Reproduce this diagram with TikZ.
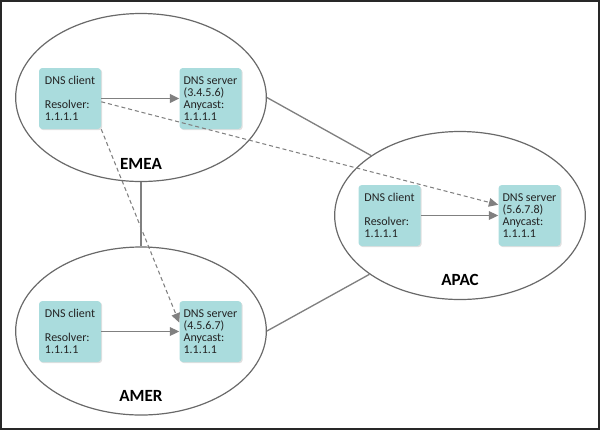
\documentclass[tikz,border=0pt]{standalone}
\usepackage{fontspec}
\setmainfont{Carlito}
\usetikzlibrary{arrows.meta,shapes.geometric,shadows}
\definecolor{Ccaixa}{RGB}{170,220,221}
\definecolor{Clinha}{RGB}{128,128,128}
\definecolor{Celipse}{RGB}{105,105,105}
\definecolor{Ctexto}{RGB}{35,35,35}
\definecolor{Cmoldura}{RGB}{40,40,40}

\begin{document}
\begin{tikzpicture}[x=0.75pt, y=-0.75pt,
    regiao/.style={ellipse, draw=Celipse, line width=0.9pt,
      minimum width=188pt, minimum height=126pt, inner sep=0pt},
    caixa/.style={rectangle, rounded corners=2.5pt, fill=Ccaixa,
      minimum width=46.5pt, minimum height=45.75pt, inner sep=0pt,
      align=left, text=Ctexto, font=\fontsize{9}{9}\selectfont,
      drop shadow={shadow xshift=0.9pt, shadow yshift=-0.9pt, opacity=0.25}},
    rotulo/.style={font=\fontsize{12.8}{14}\selectfont\bfseries, text=black},
    liga/.style={draw=Clinha, line width=1pt},
    fluxo/.style={draw=Clinha, line width=0.9pt, -{Triangle[length=7pt,width=6.5pt]}},
    atalho/.style={fluxo, dash pattern=on 3pt off 2.2pt, line width=0.8pt}]
      \useasboundingbox (0,0) rectangle (600,430);
      % Moldura
      \draw[line width=1.5pt, Cmoldura] (1,1) rectangle (598.5,428.5);
      % Regioes
      \node[regiao] (emea) at (141,97.5) {};
      \node[regiao] (amer) at (141,331) {};
      \node[regiao] (apac) at (460,215.5) {};
      \node[rotulo] (lblemea) at (141,164) {EMEA};
      \node[rotulo] (lblamer) at (141,396) {AMER};
      \node[rotulo] (lblapac) at (460,280) {APAC};
      % Ligacoes entre regioes
      \draw[liga] (emea.south) -- (amer.north);
      \draw[liga] (emea.east) -- (apac.146);
      \draw[liga] (amer.east) -- (apac.213);
      % Clientes e servidores
      \node[caixa] (emeacli) at (70,98.5) {DNS client\\[9pt]Resolver:\\1.1.1.1};
      \node[caixa] (emeasrv) at (210.5,98.5) {DNS server\\(3.4.5.6)\\Anycast:\\1.1.1.1};
      \node[caixa] (amercli) at (70,331.5) {DNS client\\[9pt]Resolver:\\1.1.1.1};
      \node[caixa] (amersrv) at (210.5,331.5) {DNS server\\(4.5.6.7)\\Anycast:\\1.1.1.1};
      \node[caixa] (apaccli) at (389.5,215.5) {DNS client\\[9pt]Resolver:\\1.1.1.1};
      \node[caixa] (apacsrv) at (529.5,215.5) {DNS server\\(5.6.7.8)\\Anycast:\\1.1.1.1};
      % Consultas locais
      \draw[fluxo, line width=1.3pt] (emeacli.east) -- (emeasrv.west);
      \draw[fluxo] (amercli.east) -- (amersrv.west);
      \draw[fluxo] (apaccli.east) -- (apacsrv.west);
      % Consultas para outras regioes
      \draw[atalho] (emeacli.-6) -- (apacsrv.161);
      \draw[atalho] (emeacli.south east) -- (amersrv.164);
    \end{tikzpicture}
\end{document}
